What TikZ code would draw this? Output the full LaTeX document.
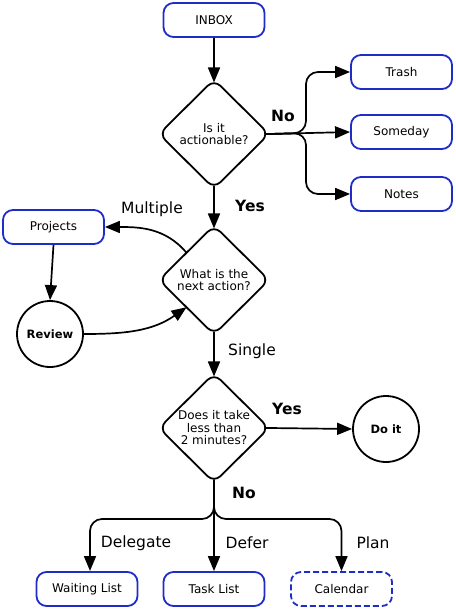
\documentclass[tikz,border=0pt]{standalone}
\usepackage{fontspec}
\setmainfont{DejaVu Sans}
\usetikzlibrary{shapes.geometric,arrows.meta}
\definecolor{boxblue}{RGB}{30,45,200}
\begin{document}
\begin{tikzpicture}[x=1pt,y=-1pt,
  box/.style={draw=boxblue,line width=1.8pt,rounded corners=10pt,minimum width=101pt,minimum height=34pt,inner sep=0pt,font=\fontsize{12}{14}\selectfont},
  dec/.style={draw,line width=1.8pt,diamond,rounded corners=9pt,minimum width=110pt,minimum height=109pt,inner sep=0pt,outer sep=0pt,align=center,font=\fontsize{12}{12.5}\selectfont},
  circ/.style={draw,line width=1.8pt,circle,minimum size=66pt,inner sep=0pt,font=\bfseries\fontsize{11.5}{13}\selectfont},
  lbl/.style={font=\fontsize{15.5}{17}\selectfont},
  blbl/.style={font=\bfseries\fontsize{15.5}{17}\selectfont},
  conn/.style={line width=1.7pt,-{Triangle[length=15pt,width=12pt]}},
  dstart/.style={shorten <=-3pt},
  dend/.style={shorten >=-3pt}]
\useasboundingbox (0,0) rectangle (455,610);
\node[box] (inbox) at (214,20) {INBOX};
\node[dec] (d1) at (214,134) {Is it\\actionable?};
\node[box] (trash) at (401.5,72) {Trash};
\node[box] (someday) at (401.5,132) {Someday};
\node[box] (notes) at (401.5,194) {Notes};
\node[dec] (d2) at (214,280) {What is the\\next action?};
\node[box] (proj) at (53.5,227) {Projects};
\node[circ] (rev) at (50,334) {Review};
\node[dec] (d3) at (214,428) {Does it take\\less than\\2 minutes?};
\node[circ] (doit) at (386,429) {Do it};
\node[box] (wait) at (87,589) {Waiting List};
\node[box] (task) at (214,589) {Task List};
\node[box,dash pattern=on 6pt off 3pt] (cal) at (341.5,589) {Calendar};

\coordinate (b1) at (306,133);
\coordinate (b3) at (214,519);
\coordinate (waittop) at (90,571);

\node[blbl] (no1) at (283,116) {No};
\node[blbl] (yes1) at (250,206) {Yes};
\node[lbl] (mult) at (152,209) {Multiple};
\node[lbl] (single) at (252,351) {Single};
\node[blbl] (yes2) at (287,409) {Yes};
\node[blbl] (no2) at (244,493) {No};
\node[lbl] (deleg) at (136,543) {Delegate};
\node[lbl] (defer) at (247,543) {Defer};
\node[lbl] (plan) at (373,543) {Plan};

\draw[conn,dend] (inbox) -- (d1);
\draw[conn,dstart,rounded corners=12pt] (d1.east) -- (b1) |- (trash.west);
\draw[conn,dstart] (d1.east) -- (someday.west);
\draw[conn,dstart,rounded corners=12pt] (d1.east) -- (b1) |- (notes.west);
\draw[conn,dstart,dend] (d1) -- (d2);
\draw[conn] (d2.north west) to[out=130,in=0] (proj.east);
\draw[conn] (proj.south) -- (rev.north);
\draw[conn] (rev.east) to[out=0,in=215] (d2.south west);
\draw[conn,dstart,dend] (d2) -- (d3);
\draw[conn,dstart] (d3.east) -- (doit.west);
\draw[conn,dstart,rounded corners=12pt] (d3.south) -- (b3) -| (waittop);
\draw[conn,dstart] (d3.south) -- (task.north);
\draw[conn,dstart,rounded corners=12pt] (d3.south) -- (b3) -| (cal.north);
\end{tikzpicture}
\end{document}
